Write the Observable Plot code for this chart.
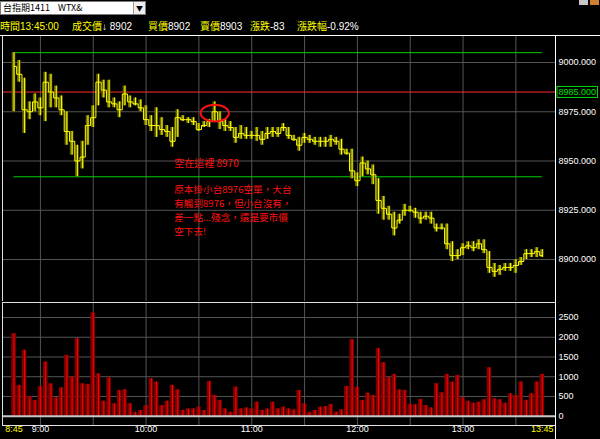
<!DOCTYPE html>
<html><head><meta charset="utf-8">
<script src="https://cdn.jsdelivr.net/npm/d3@7"></script>
<script src="https://cdn.jsdelivr.net/npm/@observablehq/plot@0.6"></script>
<style>
html,body{margin:0;padding:0;background:#000;width:600px;height:439px;overflow:hidden;}
#wrap{position:relative;width:600px;height:439px;background:#000;font-family:"Noto Sans CJK TC","Liberation Sans",sans-serif;}
.abs{position:absolute;}
svg{display:block;}
</style></head><body><div id="wrap"></div>
<script>
// ---------- data ----------
const symbolName = "台指期1411";
const symbolCode = "WTX&";
const headerLabels = ["時間", "成交價", "買價", "賣價", "漲跌", "漲跌幅"];
const headerValues = ["13:45:00", "↓ 8902", "8902", "8903", "-83", "-0.92%"];

const startTime = "8:45";
const stepMinutes = 3;
const priceHigh = [
 9005,9001,8992,8980,8984,8982,8995,8994,8988,8983,
 8975,8965,8958,8960,8973,8978,8994,8991,8991,8982,
 8980,8988,8983,8982,8981,8978,8973,8977,8972,8968,
 8967,8976,8973,8972,8972,8969,8970,8971,8980,8975,
 8971,8970,8967,8968,8967,8965,8967,8965,8967,8967,
 8967,8969,8967,8963,8962,8964,8963,8962,8962,8962,
 8963,8962,8961,8956,8956,8944,8952,8950,8948,8941,
 8932,8927,8924,8923,8928,8927,8926,8924,8924,8924,
 8918,8918,8918,8909,8905,8908,8909,8909,8910,8910,
 8904,8898,8897,8898,8898,8900,8901,8905,8905,8906,
 8905];
const priceLow = [
 8975,8990,8964,8971,8975,8973,8970,8977,8977,8973,
 8958,8953,8942,8946,8958,8967,8978,8982,8977,8977,
 8972,8978,8977,8978,8975,8968,8965,8962,8963,8962,
 8957,8962,8970,8969,8968,8965,8967,8967,8970,8966,
 8965,8965,8959,8961,8961,8961,8960,8958,8961,8962,
 8962,8965,8961,8960,8955,8959,8959,8958,8957,8957,
 8957,8958,8953,8953,8941,8937,8942,8943,8938,8923,
 8920,8920,8912,8918,8922,8924,8921,8918,8920,8918,
 8914,8915,8905,8899,8900,8902,8905,8904,8905,8903,
 8893,8891,8892,8894,8894,8893,8897,8900,8901,8901,
 8901];
const priceClose = [
 8998,8994,8976,8975,8980,8977,8990,8985,8982,8976,
 8965,8960,8950,8952,8968,8972,8990,8986,8980,8979,
 8976,8984,8980,8979,8977,8971,8968,8968,8966,8965,
 8960,8972,8971,8971,8970,8966,8968,8970,8975,8970,
 8968,8967,8962,8964,8963,8963,8963,8961,8964,8965,
 8964,8967,8963,8961,8958,8962,8961,8960,8960,8960,
 8961,8960,8956,8954,8945,8940,8949,8946,8943,8930,
 8926,8923,8916,8920,8925,8925,8924,8921,8922,8921,
 8916,8916,8908,8902,8902,8906,8907,8906,8908,8905,
 8896,8894,8895,8896,8896,8897,8899,8903,8903,8904,
 8902];
const volume = [
 2090,780,1670,500,400,750,1370,820,465,720,
 1540,990,1965,820,805,2617,1076,380,974,315,
 650,670,315,100,145,270,950,865,270,380,
 780,670,145,185,185,230,145,880,525,400,
 185,100,737,185,210,185,355,145,185,355,
 185,230,185,160,652,315,100,145,230,245,
 300,100,160,754,1940,737,400,584,525,1711,
 1355,974,1059,669,652,300,290,424,270,210,
 822,593,1059,864,1033,466,380,330,355,415,
 1228,440,415,330,567,525,864,400,567,864,
 1059];

const priceTicks = [8900, 8925, 8950, 8975, 9000];
const volumeTicks = [0, 500, 1000, 1500, 2000, 2500];
const refPrice = 8985;
const greenLevels = [9005, 8942];
const greenSpan = ["8:45", "13:45"];
const gridTimes = ["9:00","9:30","10:00","10:30","11:00","11:30","12:00","12:30","13:00","13:30"];
const axisTimes = ["8:45","9:00","10:00","11:00","12:00","13:00","13:45"];
const highlightTime = "10:39";
const highlightPrice = 8974.3;
const noteTexts = ["空在這裡 8970", "原本掛小台8976空單，大台", "有觸到8976，但小台沒有，", "差一點...殘念，還是要市價", "空下去!"];
const noteTimes = ["10:16", "10:16", "10:16", "10:16", "10:16"];
const notePrices = [8948.6, 8935.3, 8928.2, 8921.1, 8914.0];

// ---------- helpers ----------
const toMinBase = (() => { const [h, m] = startTime.split(":").map(Number); return h * 60 + m; })();
const toMin = s => { const [h, m] = s.split(":").map(Number); return h * 60 + m - toMinBase; };
const bars = priceHigh.map((h, i) => ({m: i * stepMinutes, high: h, low: priceLow[i], close: priceClose[i], vol: volume[i]}));
const notes = noteTexts.map((t, i) => ({text: t, m: toMin(noteTimes[i]), p: notePrices[i]}));

const pxPerMin = 1.761, m0px = 13.5, plotLeft = 2, plotRight = 555;
const xDomain = [(plotLeft - m0px) / pxPerMin, (plotRight - m0px) / pxPerMin];
const wrap = document.getElementById("wrap");

// ---------- header ----------
const dd = document.createElement("div");
dd.className = "abs";
dd.style.cssText = "left:0;top:1px;width:146px;height:14px;background:#fff;border:1px solid #7a7a7a;box-sizing:border-box;font:9px 'Noto Sans CJK TC',sans-serif;color:#000;line-height:12px;";
dd.innerHTML = `<span class="abs" style="left:2px;top:0">${symbolName}</span><span class="abs" style="left:57px;top:0">${symbolCode}</span><span class="abs" style="right:0;top:0;width:11px;height:12px;border-left:1px solid #999;background:#eee;text-align:center;font-size:7px;line-height:12px">▼</span>`;
wrap.appendChild(dd);
["#c8c8c8", "#d08030"].forEach((c, i) => {
  const b = document.createElement("div");
  b.className = "abs";
  b.style.cssText = `left:${579 + i * 11}px;top:0;width:9px;height:5px;background:${c};`;
  wrap.appendChild(b);
});
const headerX = [0, 72, 148, 200, 250, 297];
headerLabels.forEach((lab, i) => {
  const s = document.createElement("div");
  s.className = "abs";
  s.style.cssText = `left:${headerX[i]}px;top:19px;font-size:10px;line-height:14px;white-space:nowrap;font-family:'Noto Sans CJK TC','Liberation Sans',sans-serif;`;
  s.innerHTML = `<span style="color:#ffff00">${lab}</span><span style="color:${i === 0 ? "#ffff00" : "#ffffff"};font-family:'Liberation Sans',sans-serif">${headerValues[i]}</span>`;
  wrap.appendChild(s);
});

// ---------- price panel ----------
const ellipse = d3.range(0, 65).map(k => {
  const t = k / 64 * 2 * Math.PI;
  return {m: toMin(highlightTime) + 8.0 * Math.cos(t), p: highlightPrice + 4.2 * Math.sin(t)};
});
const priceSvg = Plot.plot({
  width: 600, height: 266,
  marginLeft: plotLeft, marginRight: 600 - plotRight, marginTop: 0, marginBottom: 0,
  style: {background: "transparent", color: "#ffffff", fontFamily: "'Liberation Sans', sans-serif", fontSize: "9px"},
  x: {domain: xDomain, axis: null},
  y: {domain: [8878.7, 9013.7], axis: "right", ticks: priceTicks, tickFormat: d3.format(".3f"), tickSize: 0, tickPadding: 3, label: null},
  marks: [
    Plot.ruleY(priceTicks, {stroke: "#555555"}),
    Plot.ruleX(gridTimes.map(toMin), {stroke: "#555555"}),
    Plot.ruleY([refPrice], {stroke: "#ff2a2a"}),
    Plot.ruleY(greenLevels, {x1: toMin(greenSpan[0]), x2: toMin(greenSpan[1]), stroke: "#00d000"}),
    Plot.rect(bars, {x1: d => d.m - 1.0, x2: d => d.m + 1.0, y1: "low", y2: "high", fill: "#666600"}),
    Plot.line(bars, {x: "m", y: "close", curve: "step", stroke: "#ffff00", strokeWidth: 1}),
    Plot.ruleX(bars, {x: "m", y1: "low", y2: "high", stroke: "#ffff00", strokeWidth: 1}),
    Plot.line(ellipse, {x: "m", y: "p", stroke: "#ff1010", strokeWidth: 2}),
    Plot.text(notes.slice(0, 1), {x: "m", y: "p", text: "text", textAnchor: "start", fill: "#ff1010", fontSize: 10, fontFamily: "'Noto Sans CJK TC', sans-serif"}),
    Plot.text(notes.slice(1), {x: "m", y: "p", text: "text", textAnchor: "start", fill: "#ff1010", fontSize: 9.6, fontFamily: "'Noto Sans CJK TC', sans-serif"}),
    Plot.text([refPrice], {y: d => d, frameAnchor: "right", dx: 3, textAnchor: "start", text: d => d3.format(".3f")(d), fill: "#00e000"}),
    Plot.frame({stroke: "#e0e0e0"})
  ]
});
priceSvg.style.position = "absolute";
priceSvg.style.left = "0px";
priceSvg.style.top = "35px";
wrap.appendChild(priceSvg);

// box around the reference price label
priceSvg.querySelectorAll("text").forEach(t => {
  const f = (t.getAttribute("fill") || (t.closest("g") && t.closest("g").getAttribute("fill")) || "").toLowerCase();
  if (t.textContent === d3.format(".3f")(refPrice) && f === "#00e000") {
    const bb = t.getBBox();
    const r = document.createElementNS("http://www.w3.org/2000/svg", "rect");
    r.setAttribute("x", bb.x - 1.5); r.setAttribute("y", bb.y - 0.5);
    r.setAttribute("width", bb.width + 3); r.setAttribute("height", bb.height + 1);
    r.setAttribute("fill", "none"); r.setAttribute("stroke", "#00e000");
    if (t.getAttribute("transform")) r.setAttribute("transform", t.getAttribute("transform"));
    t.parentNode.insertBefore(r, t);
  }
});

// ---------- volume panel ----------
const volSvg = Plot.plot({
  width: 600, height: 137,
  marginLeft: plotLeft, marginRight: 600 - plotRight, marginTop: 0, marginBottom: 14,
  style: {background: "transparent", color: "#ffffff", fontFamily: "'Liberation Sans', sans-serif", fontSize: "9px"},
  x: {domain: xDomain, axis: null},
  y: {domain: [-235.6, 2880], axis: "right", ticks: volumeTicks, tickFormat: d => String(d), tickSize: 0, tickPadding: 3, label: null},
  marks: [
    Plot.ruleY(volumeTicks.filter(v => v > 0), {stroke: "#555555"}),
    Plot.ruleX(gridTimes.map(toMin), {stroke: "#555555"}),
    Plot.rect(bars, {x1: d => d.m - 1.3, x2: d => d.m + 1.3, y1: 0, y2: "vol", fill: "#800000"}),
    Plot.ruleX(bars, {x: "m", y1: 0, y2: "vol", stroke: "#ff0000", strokeWidth: 1}),
    Plot.ruleY([0], {stroke: "#c8c8c8", strokeWidth: 2}),
    Plot.text(axisTimes.slice(1, -1), {x: toMin, frameAnchor: "bottom", dy: 6, fill: "#ffffff", text: d => d}),
    Plot.text([axisTimes[0], axisTimes[axisTimes.length - 1]], {x: toMin, frameAnchor: "bottom", dy: 6, fill: "#ffff00", text: d => d}),
    Plot.frame({stroke: "#e0e0e0"})
  ]
});
volSvg.style.position = "absolute";
volSvg.style.left = "0px";
volSvg.style.top = "302px";
wrap.appendChild(volSvg);

const rb = document.createElement("div");
rb.className = "abs";
rb.style.cssText = "left:555px;top:35px;width:1px;height:404px;background:#ffffff;";
wrap.appendChild(rb);
const tl = document.createElement("div");
tl.className = "abs";
tl.style.cssText = "left:0;top:35px;width:600px;height:1px;background:#ffffff;";
wrap.appendChild(tl);
</script></body></html>
